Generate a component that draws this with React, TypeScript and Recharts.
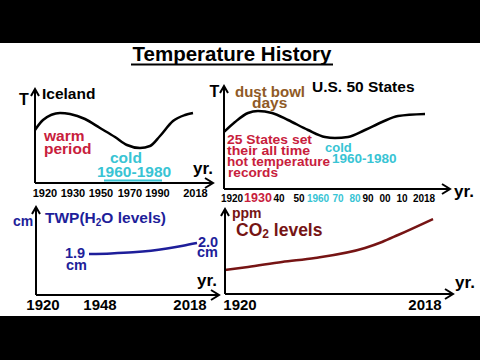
import React from 'react';
import { LineChart, Line, XAxis, YAxis, ReferenceArea } from 'recharts';

const FONT = '"Liberation Sans", Arial, Helvetica, sans-serif';
const CRIMSON = '#c8203c';
const CYAN = '#38c4d4';
const BROWN = '#8f5a26';
const NAVY = '#1e1e9a';
const MAROON = '#761414';

// Panel 1: Iceland (x = schematic position along axis, y = relative temperature)
const icelandPos = [0, 8, 25, 35, 50, 65, 80, 92, 105, 115, 125, 138, 150, 158];
const icelandTemp = [53, 63, 70, 69, 64, 55, 46, 38, 35, 37, 47, 62, 68, 70];
const icelandTickPos = [10, 38, 66, 95, 122.5, 160.5];
const icelandTickLabels = ['1920', '1930', '1950', '1970', '1990', '2018'];

// Panel 2: U.S. 50 States
const usPos = [0, 11, 24, 34, 48, 64, 84, 101, 111, 124, 141, 158, 174, 201];
const usTemp = [57, 67, 76, 78, 76, 69, 59, 52, 51, 52, 59, 67, 73, 75];
const usTickPos = [8, 34, 55, 75, 94, 114, 131, 144, 161, 178, 200];
const usTickLabels = ['1920', '1930', '40', '50', '1960', '70', '80', '90', '00', '10', '2018'];
const usTickColors = ['#000', CRIMSON, '#000', '#000', CYAN, CYAN, CYAN, '#000', '#000', '#000', '#000'];
const usTickSizes = [10, 12.5, 10, 10, 10, 10, 10, 10, 10, 10, 10];

// Panel 3: TWP (cm)
const twpPos = [53, 75, 97, 115, 131, 147, 161];
const twpCm = [1.9, 1.905, 1.915, 1.93, 1.95, 1.975, 2.0];
const twpTickPos = [7, 64, 154];
const twpTickLabels = ['1920', '1948', '2018'];

// Panel 4: CO2
const co2Pos = [0, 23, 57, 90, 140, 157, 173, 208];
const co2Level = [24, 27, 32, 36, 46, 52, 59, 75];
const co2TickPos = [15, 200];
const co2TickLabels = ['1920', '2018'];

const zip = (xs: number[], ys: number[]) => xs.map((x, i) => ({ x, y: ys[i] }));

type PanelProps = {
  axisX: number; tipY: number; axisY: number; tipX: number;
  data: { x: number; y: number }[];
  yDomain: [number, number];
  color: string; strokeWidth: number;
  tickPos: number[]; tickLabels: string[]; tickColors?: string[]; tickSizes?: number[];
  tickBaseline: number; tickFont: number;
  children?: React.ReactNode;
};

function Panel(p: PanelProps) {
  const yw = 10;
  const xh = 40;
  const plotW = p.tipX - p.axisX;
  const plotH = p.axisY - p.tipY;
  const renderTick = (props: any) => {
    const { x, y, payload } = props;
    const i = p.tickPos.indexOf(payload.value);
    if (i < 0) return <g />;
    return (
      <text
        x={x}
        y={y + (p.tickBaseline - p.axisY)}
        textAnchor="middle"
        fontFamily={FONT}
        fontWeight="bold"
        fontSize={p.tickSizes ? p.tickSizes[i] : p.tickFont}
        fill={p.tickColors ? p.tickColors[i] : '#000'}
      >
        {p.tickLabels[i]}
      </text>
    );
  };
  return (
    <div style={{ position: 'absolute', left: p.axisX - yw, top: p.tipY }}>
      <LineChart width={plotW + yw} height={plotH + xh} data={p.data} margin={{ top: 0, right: 0, bottom: 0, left: 0 }}>
        <XAxis
          dataKey="x"
          type="number"
          domain={[0, plotW]}
          allowDataOverflow
          ticks={p.tickPos}
          interval={0}
          tickLine={false}
          tickSize={0}
          tickMargin={0}
          height={xh}
          axisLine={{ stroke: '#000', strokeWidth: 2 }}
          tick={renderTick}
        />
        <YAxis
          type="number"
          domain={p.yDomain}
          allowDataOverflow
          width={yw}
          tick={false}
          tickLine={false}
          axisLine={{ stroke: '#000', strokeWidth: 2 }}
        />
        {p.children}
        <Line dataKey="y" type="monotone" stroke={p.color} strokeWidth={p.strokeWidth} dot={false} isAnimationActive={false} />
      </LineChart>
    </div>
  );
}

const T = (props: any) => (
  <text fontFamily={FONT} fontWeight="bold" {...props} />
);

function Arrows({ axisX, tipY, axisY, tipX }: { axisX: number; tipY: number; axisY: number; tipX: number }) {
  return (
    <g stroke="#000" strokeWidth={2} fill="none">
      <polyline points={`${axisX - 4},${tipY + 7} ${axisX},${tipY} ${axisX + 4},${tipY + 7}`} />
      <polyline points={`${tipX - 8},${axisY - 5} ${tipX},${axisY} ${tipX - 8},${axisY + 5}`} />
    </g>
  );
}

export default function App() {
  return (
    <div style={{ position: 'absolute', left: 0, top: 0, width: 480, height: 360, background: '#fff', overflow: 'hidden' }}>
      <div style={{ position: 'absolute', left: 0, top: 0, width: 480, height: 43, background: '#000' }} />
      <div style={{ position: 'absolute', left: 0, top: 316, width: 480, height: 44, background: '#000' }} />

      <Panel axisX={35} tipY={89} axisY={183} tipX={213} data={zip(icelandPos, icelandTemp)} yDomain={[0, 94]}
        color="#000" strokeWidth={2.5} tickPos={icelandTickPos} tickLabels={icelandTickLabels} tickBaseline={197} tickFont={11}>
        <ReferenceArea x1={69} x2={127} y1={1.5} y2={3.5} fill={CYAN} fillOpacity={1} stroke="none" />
      </Panel>
      <Panel axisX={224} tipY={86} axisY={189} tipX={450} data={zip(usPos, usTemp)} yDomain={[0, 103]}
        color="#000" strokeWidth={2.5} tickPos={usTickPos} tickLabels={usTickLabels} tickColors={usTickColors} tickSizes={usTickSizes}
        tickBaseline={202} tickFont={10} />
      <Panel axisX={36} tipY={207} axisY={295} tipX={219} data={zip(twpPos, twpCm)} yDomain={[1.527, 2.327]}
        color={NAVY} strokeWidth={2.5} tickPos={twpTickPos} tickLabels={twpTickLabels} tickBaseline={310} tickFont={15} />
      <Panel axisX={225} tipY={209} axisY={294} tipX={453} data={zip(co2Pos, co2Level)} yDomain={[0, 85]}
        color={MAROON} strokeWidth={2.5} tickPos={co2TickPos} tickLabels={co2TickLabels} tickBaseline={310} tickFont={15} />

      <svg width={480} height={360} style={{ position: 'absolute', left: 0, top: 0, pointerEvents: 'none' }}>
        <Arrows axisX={35} tipY={89} axisY={183} tipX={213} />
        <Arrows axisX={224} tipY={86} axisY={189} tipX={450} />
        <Arrows axisX={36} tipY={207} axisY={295} tipX={219} />
        <Arrows axisX={225} tipY={209} axisY={294} tipX={453} />

        {/* Title */}
        <T x={232} y={61} textAnchor="middle" fontSize={20.5} fill="#000">Temperature History</T>
        <line x1={131} x2={333} y1={64.5} y2={64.5} stroke="#000" strokeWidth={2} />

        {/* Panel 1 */}
        <T x={24} y={105} textAnchor="middle" fontSize={16} fill="#000">T</T>
        <T x={42} y={99} fontSize={15.5} fill="#000">Iceland</T>
        <T fontSize={15.5} fill={CRIMSON}>
          <tspan x={44} y={141}>warm</tspan>
          <tspan x={44} y={154}>period</tspan>
        </T>
        <T fontSize={15.5} fill={CYAN}>
          <tspan x={110} y={163}>cold</tspan>
          <tspan x={97} y={177}>1960-1980</tspan>
        </T>
        <T x={193} y={174} fontSize={17} fill="#000">yr.</T>

        {/* Panel 2 */}
        <T x={214.5} y={97} textAnchor="middle" fontSize={16} fill="#000">T</T>
        <T fill={BROWN}>
          <tspan x={235} y={97} fontSize={15}>dust bowl</tspan>
          <tspan x={252} y={108} fontSize={15.5}>days</tspan>
        </T>
        <T x={312} y={92} fontSize={15.5} fill="#000">U.S. 50 States</T>
        <T fontSize={13.5} fill={CRIMSON}>
          <tspan x={227} y={144} textLength={85} lengthAdjust="spacingAndGlyphs">25 States set</tspan>
          <tspan x={227} y={155} textLength={83} lengthAdjust="spacingAndGlyphs">their all time</tspan>
          <tspan x={227} y={166} textLength={103} lengthAdjust="spacingAndGlyphs">hot temperature</tspan>
          <tspan x={228} y={177} textLength={50} lengthAdjust="spacingAndGlyphs">records</tspan>
        </T>
        <T fill={CYAN}>
          <tspan x={325} y={152} fontSize={13}>cold</tspan>
          <tspan x={332} y={163} fontSize={13.5}>1960-1980</tspan>
        </T>
        <T x={454} y={197} fontSize={17} fill="#000">yr.</T>

        {/* Panel 3 */}
        <T x={13} y={226} fontSize={14} fill={NAVY}>cm</T>
        <T x={45} y={223} fill={NAVY} fontSize={15.5}>
          TWP(H<tspan fontSize={10} dy={3}>2</tspan><tspan dy={-3}>O levels)</tspan>
        </T>
        <T fontSize={14.5} fill={NAVY}>
          <tspan x={65} y={258}>1.9</tspan>
          <tspan x={66} y={270}>cm</tspan>
        </T>
        <T fontSize={14.5} fill={NAVY}>
          <tspan x={198} y={247}>2.0</tspan>
          <tspan x={197} y={257}>cm</tspan>
        </T>
        <T x={197} y={286} fontSize={17} fill="#000">yr.</T>

        {/* Panel 4 */}
        <T x={232} y={218} fontSize={14} fill={MAROON}>ppm</T>
        <T x={236} y={236} fontSize={17.5} fill={MAROON}>
          CO<tspan fontSize={12} dy={2}>2</tspan><tspan dy={-2}> levels</tspan>
        </T>
        <T x={455} y={288} fontSize={17} fill="#000">yr.</T>
      </svg>
    </div>
  );
}
